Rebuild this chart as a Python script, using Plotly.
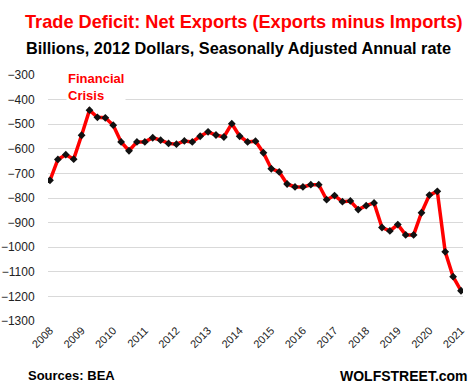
import plotly.graph_objects as go

quarters = [f"{y}Q{q}" for y in range(2008, 2022) for q in range(1, 5)][:53]
net_exports = [
    -728, -643, -624, -642, -545, -443, -472, -474, -504, -572,
    -608, -572, -572, -555, -565, -578, -581, -568, -572, -549,
    -531, -544, -552, -498, -549, -572, -569, -616, -681, -694,
    -743, -755, -755, -746, -746, -807, -790, -815, -812, -847,
    -831, -820, -920, -934, -908, -950, -950, -860, -788, -773,
    -1019, -1120, -1177,
]
year_labels = [str(y) for y in range(2008, 2022)]
y_ticks = list(range(-1300, -299, 100))

x_idx = list(range(len(net_exports)))
tick_pos = [i * 4 for i in range(len(year_labels))]

fig = go.Figure()
fig.add_trace(go.Scatter(
    x=x_idx, y=net_exports, mode="lines+markers",
    line=dict(color="#ff0000", width=3.5),
    marker=dict(symbol="diamond", size=6, color="#111111"),
    hoverinfo="skip",
))

fig.update_layout(
    width=476, height=390,
    margin=dict(l=48, r=13, t=75, b=69),
    paper_bgcolor="white", plot_bgcolor="white",
    showlegend=False,
    font=dict(family="Liberation Sans, Arial, sans-serif", color="#222222"),
    xaxis=dict(
        range=[-0.25, 52.25], tickmode="array", tickvals=tick_pos,
        ticktext=year_labels, tickangle=-45, showgrid=False, zeroline=False,
        showline=False, ticks="", ticklen=12, tickcolor="white",
        tickfont=dict(size=11, color="#222222"), automargin=False,
    ),
    yaxis=dict(
        range=[-1300, -300], tickmode="array", tickvals=y_ticks,
        showgrid=True, gridcolor="#d9d9d9", gridwidth=1, zeroline=False,
        showline=False, ticks="outside", ticklen=10, tickcolor="white",
        tickfont=dict(size=12, color="#222222"), automargin=False,
    ),
    annotations=[
        dict(text="<b>Trade Deficit: Net Exports (Exports minus Imports)</b>",
             xref="paper", yref="paper", x=(23 - 48) / 415, y=1 + (75 - 22) / 246.3,
             xanchor="left", yanchor="middle", showarrow=False,
             font=dict(size=18.2, color="#ff0000")),
        dict(text="<b>Billions, 2012 Dollars, Seasonally Adjusted Annual rate</b>",
             xref="paper", yref="paper", x=(24 - 48) / 415, y=1 + (75 - 48) / 246.3,
             xanchor="left", yanchor="middle", showarrow=False,
             font=dict(size=16.3, color="#000000")),
        dict(text="<b>Financial<br>Crisis</b>",
             xref="paper", yref="paper", x=(66 - 48) / 415, y=1 - (87 - 75) / 246.3,
             xanchor="left", yanchor="middle", align="left", showarrow=False,
             bgcolor="white", font=dict(size=13, color="#ff0000")),
        dict(text="<b>Sources: BEA</b>",
             xref="paper", yref="paper", x=(26 - 48) / 415, y=-(376 - 321) / 246.3,
             xanchor="left", yanchor="middle", showarrow=False,
             font=dict(size=13, color="#000000")),
        dict(text="<b>WOLFSTREET.com</b>",
             xref="paper", yref="paper", x=1 + (470 - 463) / 415, y=-(376 - 321) / 246.3,
             xanchor="right", yanchor="middle", showarrow=False,
             font=dict(size=14, color="#000000")),
    ],
)

fig.write_html("out.html", post_script="document.body.style.margin='0';",
               config={"displayModeBar": False})
